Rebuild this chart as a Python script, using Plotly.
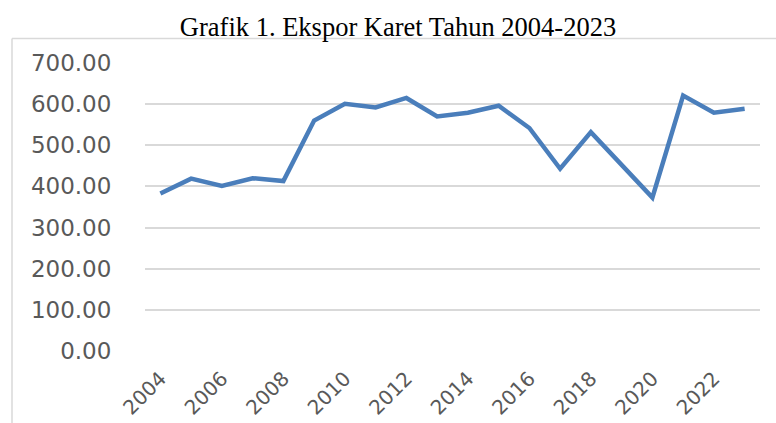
import plotly.graph_objects as go

years = [str(y) for y in range(2004, 2024)]
ekspor = [383, 419, 401, 420, 413, 560, 601, 592, 615, 570, 579, 596,
          542, 443, 532, 452, 373, 621, 579, 589]
tick_years = [str(y) for y in range(2004, 2024, 2)]
y_ticks = [0, 100, 200, 300, 400, 500, 600, 700]
y_ticktext = [f"{v:.2f}" for v in y_ticks]

W, H = 776, 423
ml, mr, mt, mb = 145, 16, 63, 72
pw, ph = W - ml - mr, H - mt - mb

def px_x(px):
    return (px - ml) / pw

def px_y(py):
    return (H - mb - py) / ph

fig = go.Figure()
fig.add_trace(go.Scatter(
    x=years, y=ekspor, mode="lines",
    line=dict(color="#4A7EBB", width=4.5),
    hoverinfo="x+y",
))

frame = "#D9D9D9"
fig.add_shape(type="line", xref="paper", yref="paper",
              x0=px_x(12), x1=px_x(776), y0=px_y(38.5), y1=px_y(38.5),
              line=dict(color=frame, width=1.5))
fig.add_shape(type="line", xref="paper", yref="paper",
              x0=px_x(12), x1=px_x(12), y0=px_y(38.5), y1=px_y(423),
              line=dict(color=frame, width=1.5))

fig.update_layout(
    width=W, height=H, autosize=False,
    margin=dict(l=ml, r=mr, t=mt, b=mb),
    paper_bgcolor="white", plot_bgcolor="white",
    showlegend=False,
    title=dict(text="Grafik 1. Ekspor Karet Tahun 2004-2023",
               x=398 / W, xanchor="center", y=1 - 27 / H, yanchor="middle",
               yref="container",
               font=dict(family="Liberation Serif", size=26.5, color="#000000")),
    xaxis=dict(
        type="category", range=[-0.5, 19.5], automargin=False,
        tickmode="array", tickvals=tick_years, ticktext=tick_years,
        tickangle=-45, showgrid=False, showline=False, zeroline=False,
        ticks="outside", ticklen=7, tickcolor="rgba(0,0,0,0)",
        tickfont=dict(family="DejaVu Sans", size=20, color="#595959"),
    ),
    yaxis=dict(
        range=[0, 700], automargin=False,
        tickmode="array", tickvals=y_ticks, ticktext=y_ticktext,
        showgrid=True, gridcolor="#D9D9D9", gridwidth=2,
        zeroline=False, showline=False,
        ticks="outside", ticklen=28, tickcolor="rgba(0,0,0,0)",
        tickfont=dict(family="DejaVu Sans", size=23, color="#595959"),
    ),
)

fig.write_html("out.html",
               config={"displayModeBar": False, "responsive": False},
               post_script="document.body.style.margin='0';")
